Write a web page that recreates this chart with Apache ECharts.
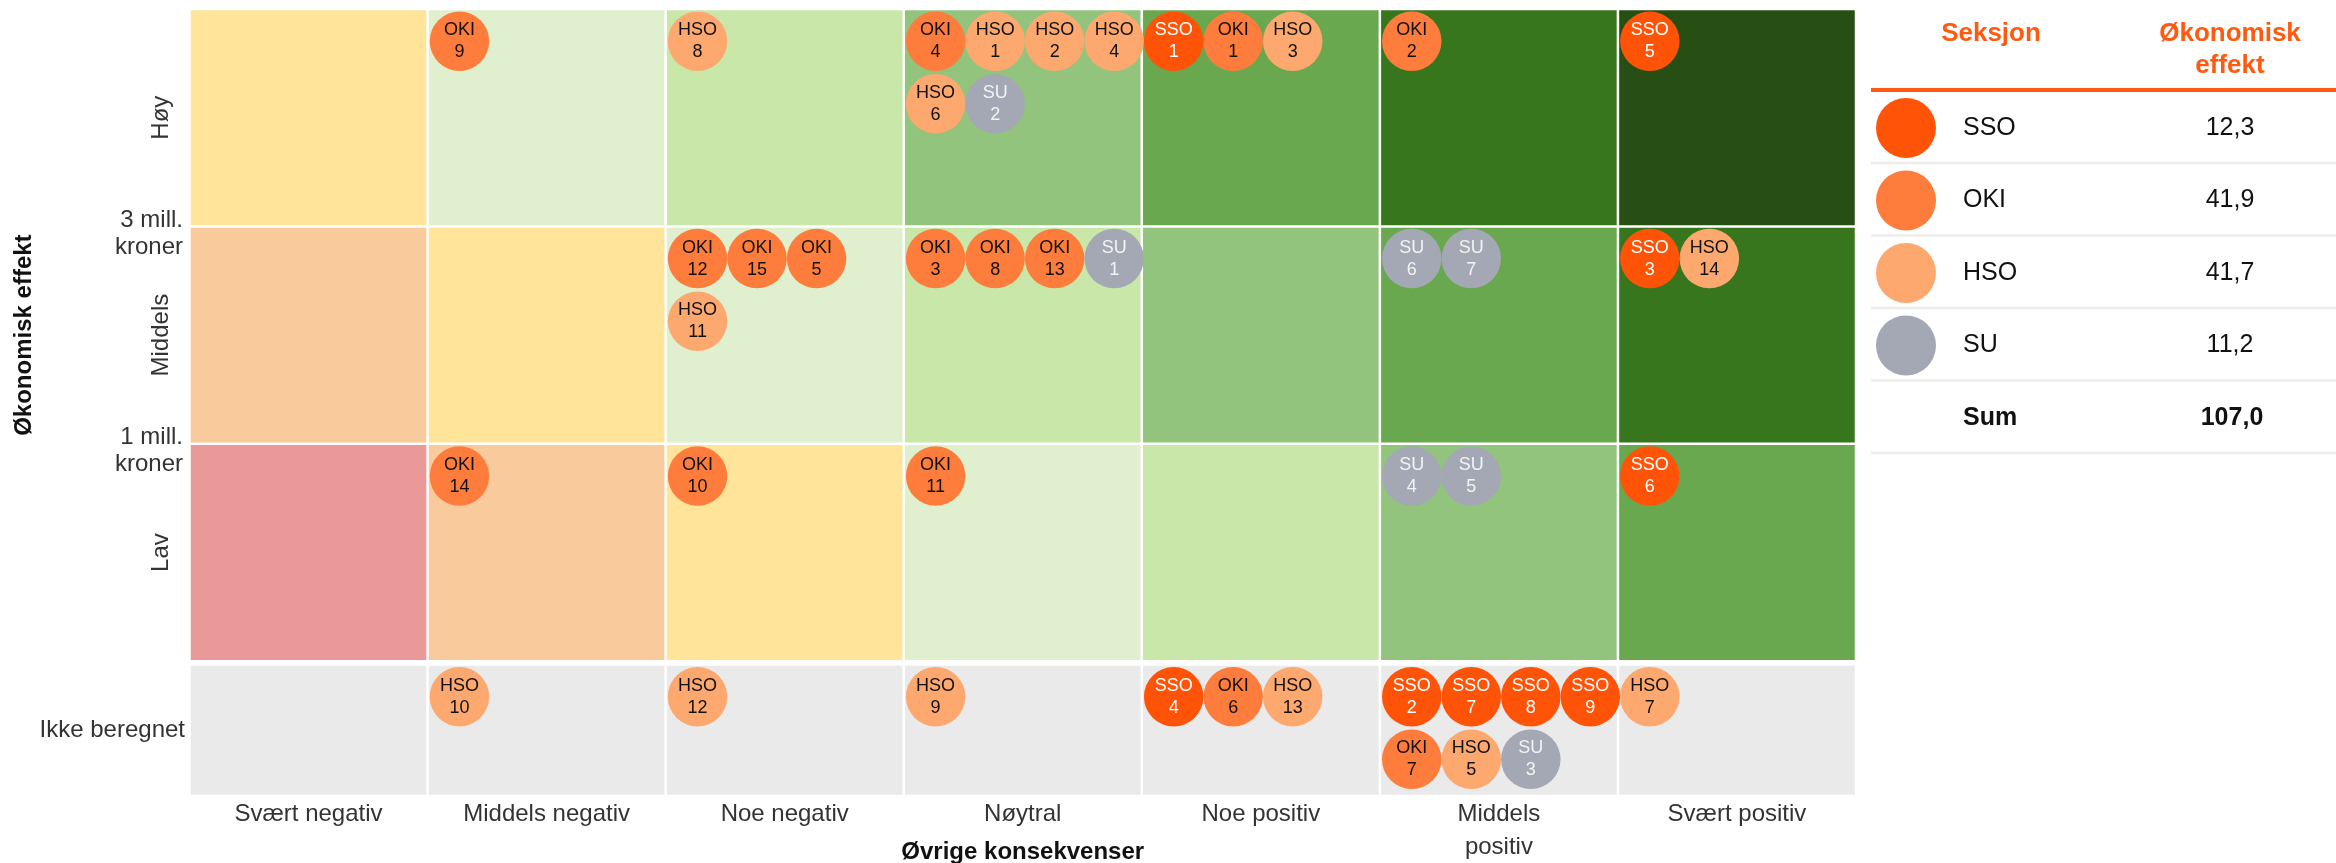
<!DOCTYPE html>
<html>
<head>
<meta charset="utf-8">
<script src="https://cdn.jsdelivr.net/npm/echarts@6/dist/echarts.min.js"></script>
<style>
html,body{margin:0;padding:0;background:#fff;}
#chart{width:2336px;height:863px;}
</style>
</head>
<body>
<div id="chart"></div>
<script>
// ---------------- DATA ----------------
const consequenceCategories = ['Svært negativ', 'Middels negativ', 'Noe negativ', 'Nøytral', 'Noe positiv', 'Middels\npositiv', 'Svært positiv'];
const economicLevels = ['Lav', 'Middels', 'Høy'];
const notCalculatedLevel = 'Ikke beregnet';
const thresholdValues = [1, 2];
const thresholdLabels = ['1 mill.\nkroner', '3 mill.\nkroner'];
const xAxisTitle = 'Øvrige konsekvenser';
const yAxisTitle = 'Økonomisk effekt';

const sections = ['SSO', 'OKI', 'HSO', 'SU'];
const sectionEffect = [12.3, 41.9, 41.7, 11.2];
const totalLabel = 'Sum';
const totalEffect = 107.0;
const tableHeaders = ['Seksjon', 'Økonomisk\neffekt'];

// [consequence, economic level, section, number] in display order within each cell
const projects = [
  ['Middels negativ', 'Høy', 'OKI', 9],
  ['Noe negativ', 'Høy', 'HSO', 8],
  ['Nøytral', 'Høy', 'OKI', 4],
  ['Nøytral', 'Høy', 'HSO', 1],
  ['Nøytral', 'Høy', 'HSO', 2],
  ['Nøytral', 'Høy', 'HSO', 4],
  ['Nøytral', 'Høy', 'HSO', 6],
  ['Nøytral', 'Høy', 'SU', 2],
  ['Noe positiv', 'Høy', 'SSO', 1],
  ['Noe positiv', 'Høy', 'OKI', 1],
  ['Noe positiv', 'Høy', 'HSO', 3],
  ['Middels positiv', 'Høy', 'OKI', 2],
  ['Svært positiv', 'Høy', 'SSO', 5],

  ['Noe negativ', 'Middels', 'OKI', 12],
  ['Noe negativ', 'Middels', 'OKI', 15],
  ['Noe negativ', 'Middels', 'OKI', 5],
  ['Noe negativ', 'Middels', 'HSO', 11],
  ['Nøytral', 'Middels', 'OKI', 3],
  ['Nøytral', 'Middels', 'OKI', 8],
  ['Nøytral', 'Middels', 'OKI', 13],
  ['Nøytral', 'Middels', 'SU', 1],
  ['Middels positiv', 'Middels', 'SU', 6],
  ['Middels positiv', 'Middels', 'SU', 7],
  ['Svært positiv', 'Middels', 'SSO', 3],
  ['Svært positiv', 'Middels', 'HSO', 14],

  ['Middels negativ', 'Lav', 'OKI', 14],
  ['Noe negativ', 'Lav', 'OKI', 10],
  ['Nøytral', 'Lav', 'OKI', 11],
  ['Middels positiv', 'Lav', 'SU', 4],
  ['Middels positiv', 'Lav', 'SU', 5],
  ['Svært positiv', 'Lav', 'SSO', 6],

  ['Middels negativ', 'Ikke beregnet', 'HSO', 10],
  ['Noe negativ', 'Ikke beregnet', 'HSO', 12],
  ['Nøytral', 'Ikke beregnet', 'HSO', 9],
  ['Noe positiv', 'Ikke beregnet', 'SSO', 4],
  ['Noe positiv', 'Ikke beregnet', 'OKI', 6],
  ['Noe positiv', 'Ikke beregnet', 'HSO', 13],
  ['Middels positiv', 'Ikke beregnet', 'SSO', 2],
  ['Middels positiv', 'Ikke beregnet', 'SSO', 7],
  ['Middels positiv', 'Ikke beregnet', 'SSO', 8],
  ['Middels positiv', 'Ikke beregnet', 'SSO', 9],
  ['Middels positiv', 'Ikke beregnet', 'OKI', 7],
  ['Middels positiv', 'Ikke beregnet', 'HSO', 5],
  ['Middels positiv', 'Ikke beregnet', 'SU', 3],
  ['Svært positiv', 'Ikke beregnet', 'HSO', 7]
];
// bubbles that start a new line inside their cell
const lineBreakBefore = ['HSO 11'];

// ---------------- STYLE ----------------
const FONT = '"Liberation Sans", Arial, Helvetica, sans-serif';
const cellPalette = ['#ea9999', '#f9ca9c', '#ffe499', '#e0f0ce', '#c9e7a8', '#93c47d', '#6aa84f', '#38761d', '#274e13'];
const notCalcColor = '#eaeaea';
const sectionColors = {SSO: '#ff5308', OKI: '#fe7d3c', HSO: '#fda86f', SU: '#a3a8b4'};
const sectionTextColors = {SSO: '#ffffff', OKI: '#111111', HSO: '#111111', SU: '#f3f3f3'};
const ACCENT = '#ff5a0f';
const GAP = 1.25;              // half of white separator width (px)
const NOT_CALC_HEIGHT = 0.605; // height of the "Ikke beregnet" row, in level units
const PER_LINE = 4;
const INSET_X = 0.134, STEP_X = 0.25;  // in column units
const INSET_Y = 0.148, STEP_Y = 0.288; // in level units

// ---------------- LAYOUT OF BUBBLES ----------------
const colIndex = name => consequenceCategories.findIndex(c => c.replace('\n', ' ') === name);
const cells = {};
const cellOrder = [];
projects.forEach(([cons, level, sec, id]) => {
  const key = cons + '|' + level;
  if (!cells[key]) { cells[key] = []; cellOrder.push(key); }
  cells[key].push({col: colIndex(cons), level, sec, id});
});
const bubbles = [];
cellOrder.forEach(key => {
  let line = 0, slot = 0;
  cells[key].forEach(it => {
    if (slot >= PER_LINE || (slot > 0 && lineBreakBefore.includes(it.sec + ' ' + it.id))) { line++; slot = 0; }
    it.slot = slot; it.line = line; slot++;
    bubbles.push(it);
  });
});

function bubbleValue(b) {
  const x = b.col + INSET_X + b.slot * STEP_X;
  const top = b.level === notCalculatedLevel ? NOT_CALC_HEIGHT : economicLevels.indexOf(b.level) + 1;
  return [x, top - INSET_Y - b.line * STEP_Y];
}

// ---------------- CELLS ----------------
const topCells = [];
economicLevels.forEach((lv, li) => consequenceCategories.forEach((c, ci) => topCells.push([ci, li, ci + li])));
const bottomCells = consequenceCategories.map((c, ci) => [ci, 0]);

const series = [
  {
    type: 'custom', xAxisIndex: 0, yAxisIndex: 1, silent: true, z: 1,
    data: topCells,
    renderItem: (params, api) => {
      const tl = api.coord([api.value(0), api.value(1) + 1]);
      const s = api.size([1, 1]);
      return {type: 'rect', shape: {x: tl[0] + GAP, y: tl[1] + GAP, width: s[0] - 2 * GAP, height: s[1] - 2 * GAP},
        style: {fill: cellPalette[api.value(2)]}};
    }
  },
  {
    type: 'custom', xAxisIndex: 2, yAxisIndex: 3, silent: true, z: 1,
    data: bottomCells,
    renderItem: (params, api) => {
      const tl = api.coord([api.value(0), NOT_CALC_HEIGHT]);
      const s = api.size([1, NOT_CALC_HEIGHT]);
      return {type: 'rect', shape: {x: tl[0] + GAP, y: tl[1] + GAP, width: s[0] - 2 * GAP, height: s[1] - 2 * GAP},
        style: {fill: notCalcColor}};
    }
  }
];

sections.forEach(sec => {
  [false, true].forEach(isBottom => {
    const data = bubbles.filter(b => b.sec === sec && ((b.level === notCalculatedLevel) === isBottom))
      .map(b => ({value: bubbleValue(b), sec: b.sec, id: b.id}));
    series.push({
      type: 'scatter', name: sec, z: 3, silent: true,
      xAxisIndex: isBottom ? 2 : 0, yAxisIndex: isBottom ? 3 : 1,
      symbol: 'circle', symbolSize: 59.5,
      itemStyle: {color: sectionColors[sec], opacity: 1},
      label: {
        show: true, position: 'inside',
        formatter: p => p.data.sec + '\n' + p.data.id,
        fontFamily: FONT, fontSize: 18, lineHeight: 22, color: sectionTextColors[sec]
      },
      data
    });
  });
});

// ---------------- TABLE (graphic) ----------------
const fmt = v => v.toFixed(1).replace('.', ',');
const T = {left: 1871, right: 2336, colSec: 1991, colVal: 2230, ruleY: 90, row0: 128, step: 72.5, cx: 1906, r: 30, nameX: 1963};
const txt = (x, y, text, opt) => Object.assign({
  type: 'text', x, y, silent: true,
  style: Object.assign({text, fontFamily: FONT, fontSize: 25, fill: '#111',
    align: 'center', verticalAlign: 'middle', textAlign: 'center', textVerticalAlign: 'middle'}, opt || {})
});
const graphics = [];
graphics.push(txt(T.colSec, 34, tableHeaders[0], {fontSize: 26, fontWeight: 'bold', fill: ACCENT}));
graphics.push(txt(T.colVal, 50, tableHeaders[1], {fontSize: 26, fontWeight: 'bold', fill: ACCENT, lineHeight: 32}));
graphics.push({type: 'line', silent: true, shape: {x1: T.left, y1: T.ruleY, x2: T.right, y2: T.ruleY}, style: {stroke: ACCENT, lineWidth: 4}});
sections.forEach((sec, i) => {
  const cy = T.row0 + i * T.step;
  graphics.push({type: 'circle', silent: true, shape: {cx: T.cx, cy, r: T.r}, style: {fill: sectionColors[sec]}});
  graphics.push(txt(T.nameX, cy, sec, {align: 'left', textAlign: 'left'}));
  graphics.push(txt(T.colVal, cy, fmt(sectionEffect[i])));
  graphics.push({type: 'line', silent: true, shape: {x1: T.left, y1: cy + 35, x2: T.right, y2: cy + 35}, style: {stroke: '#ececec', lineWidth: 2.5}});
});
const sumY = T.row0 + sections.length * T.step;
graphics.push(txt(T.nameX, sumY, totalLabel, {align: 'left', textAlign: 'left', fontWeight: 'bold'}));
graphics.push(txt(T.colVal + 2, sumY, fmt(totalEffect), {fontWeight: 'bold'}));
graphics.push({type: 'line', silent: true, shape: {x1: T.left, y1: sumY + 35, x2: T.right, y2: sumY + 35}, style: {stroke: '#ececec', lineWidth: 2.5}});

// ---------------- CHART ----------------
const chart = echarts.init(document.getElementById('chart'), null, {renderer: 'canvas'});
const hidden = {axisLine: {show: false}, axisTick: {show: false}, splitLine: {show: false}};
chart.setOption({
  animation: false,
  backgroundColor: '#ffffff',
  textStyle: {fontFamily: FONT},
  grid: [
    {left: 189.5, top: 9, width: 1666.5, height: 652.25, containLabel: false, outerBoundsMode: 'none'},
    {left: 189.5, top: 664.5, width: 1666.5, height: 131.5, containLabel: false, outerBoundsMode: 'none'}
  ],
  xAxis: [
    Object.assign({type: 'value', gridIndex: 0, min: 0, max: 7, position: 'bottom', axisLabel: {show: false}}, hidden),
    Object.assign({
      type: 'category', gridIndex: 1, data: consequenceCategories, position: 'bottom',
      axisLabel: {interval: 0, margin: 2, fontSize: 24, lineHeight: 33, color: '#333', fontFamily: FONT},
      name: xAxisTitle, nameLocation: 'middle', nameGap: 44, nameMoveOverlap: false,
      nameTextStyle: {fontSize: 24, fontWeight: 'bold', color: '#111', fontFamily: FONT, verticalAlign: 'top'}
    }, hidden),
    Object.assign({type: 'value', gridIndex: 1, min: 0, max: 7, position: 'bottom', axisLabel: {show: false}}, hidden)
  ],
  yAxis: [
    Object.assign({
      type: 'category', gridIndex: 0, data: economicLevels, position: 'left',
      axisLabel: {rotate: 90, margin: 16, fontSize: 24, color: '#333', fontFamily: FONT},
      name: yAxisTitle, nameLocation: 'middle', nameGap: 153, nameMoveOverlap: false,
      nameTextStyle: {fontSize: 24, fontWeight: 'bold', color: '#111', fontFamily: FONT}
    }, hidden),
    Object.assign({
      type: 'value', gridIndex: 0, min: 0, max: 3, interval: 1, position: 'left',
      axisLabel: {
        margin: 6.5, fontSize: 24, lineHeight: 27, color: '#333', fontFamily: FONT, align: 'right',
        formatter: v => { const i = thresholdValues.indexOf(v); return i >= 0 ? '{s| }\n' + thresholdLabels[i] : ''; },
        rich: {s: {fontSize: 2, lineHeight: 14}}
      }
    }, hidden),
    Object.assign({
      type: 'category', gridIndex: 1, data: [notCalculatedLevel], position: 'left',
      axisLabel: {margin: 4.5, fontSize: 24, color: '#333', fontFamily: FONT}
    }, hidden),
    Object.assign({type: 'value', gridIndex: 1, min: 0, max: NOT_CALC_HEIGHT, position: 'left', axisLabel: {show: false}}, hidden)
  ],
  series,
  graphic: {elements: graphics}
});
</script>
</body>
</html>
